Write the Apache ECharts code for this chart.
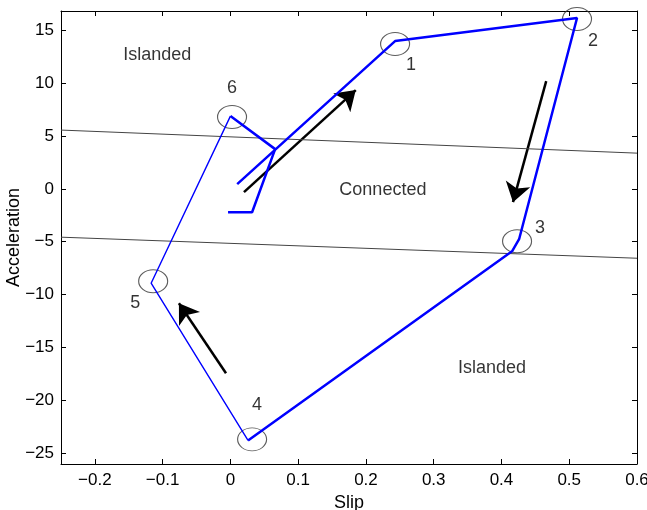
<!DOCTYPE html>
<html>
<head>
<meta charset="utf-8">
<style>
  html, body { margin: 0; padding: 0; background: #fff; }
  #chart { width: 647px; height: 510px; }
</style>
<script src="https://cdn.jsdelivr.net/npm/echarts@6/dist/echarts.min.js"></script>
</head>
<body>
<div id="chart"></div>
<script>
// axis ticks
const slipTicks = [-0.2, -0.1, 0, 0.1, 0.2, 0.3, 0.4, 0.5, 0.6];
const accelTicks = [-25, -20, -15, -10, -5, 0, 5, 10, 15];

// region boundaries (slip ends, acceleration at each end)
const boundSlip = [-0.25, 0.6];
const upperBoundAccel = [5.55, 3.37];
const lowerBoundAccel = [-4.57, -6.56];

// trajectory: start -> 1 -> 2 -> 3 -> 4 (thick)
const outSlip = [0.010, 0.243, 0.5115, 0.426, 0.4156, 0.026];
const outAccel = [0.44, 13.96, 16.14, -4.76, -5.90, -23.77];
// 4 -> 5 -> 6 (thin)
const backSlip = [0.026, -0.117, 0.0];
const backAccel = [-23.77, -8.92, 6.87];
// 6 -> end (thick)
const tailSlip = [0.0, 0.066, 0.032, -0.0035];
const tailAccel = [6.87, 3.75, -2.21, -2.21];

// marked states
const markNames = ['1', '2', '3', '4', '5', '6'];
const markSlip = [0.243, 0.5115, 0.423, 0.032, -0.114, 0.0024];
const markAccel = [13.68, 16.04, -4.95, -23.67, -8.73, 6.78];

// direction arrows [tail, head]
const arrowTailSlip = [0.020, 0.466, -0.0065];
const arrowTailAccel = [-0.32, 10.18, -17.43];
const arrowHeadSlip = [0.185, 0.417, -0.076];
const arrowHeadAccel = [9.33, -1.26, -10.81];

// region names
const regionNames = ['Islanded', 'Connected', 'Islanded'];
const regionSlip = [-0.108, 0.225, 0.386];
const regionAccel = [12.64, -0.13, -16.96];

const FONT = '"Liberation Sans", Arial, sans-serif';
const fmt = v => (v === 0 ? '0' : String(v).replace('-', '\u2212'));
const zip = (xs, ys) => xs.map((x, i) => [x, ys[i]]);

const labelOffsets = [[16, 21], [16, 22], [23, -13], [5, -34], [-18, 22], [0, -29]];

const chart = echarts.init(document.getElementById('chart'));

const axisCommon = {
  type: 'value',
  axisLine: { show: true, onZero: false, lineStyle: { color: '#000', width: 1 } },
  splitLine: { show: false },
  nameMoveOverlap: false
};

chart.setOption({
  animation: false,
  textStyle: { fontFamily: FONT },
  grid: { left: 61, right: 10, top: 11, bottom: 46, containLabel: false, outerBoundsMode: 'none' },
  xAxis: [
    Object.assign({}, axisCommon, {
      position: 'bottom', min: -0.25, max: 0.6,
      axisTick: { show: true, inside: true, length: 5, customValues: slipTicks, lineStyle: { color: '#000' } },
      axisLabel: { customValues: slipTicks, formatter: fmt, color: '#000', fontSize: 17, margin: 8, fontFamily: FONT },
      name: 'Slip', nameLocation: 'middle', nameGap: 30,
      nameTextStyle: { color: '#000', fontSize: 18, fontFamily: FONT }
    }),
    Object.assign({}, axisCommon, {
      position: 'top', min: -0.25, max: 0.6,
      axisTick: { show: true, inside: true, length: 5, customValues: slipTicks, lineStyle: { color: '#000' } },
      axisLabel: { show: false }
    })
  ],
  yAxis: [
    Object.assign({}, axisCommon, {
      position: 'left', min: -26, max: 16.8,
      axisTick: { show: true, inside: true, length: 5, customValues: accelTicks, lineStyle: { color: '#000' } },
      axisLabel: { customValues: accelTicks, formatter: fmt, color: '#000', fontSize: 17, margin: 7, fontFamily: FONT },
      name: 'Acceleration', nameLocation: 'middle', nameGap: 38,
      nameTextStyle: { color: '#000', fontSize: 18, fontFamily: FONT }
    }),
    Object.assign({}, axisCommon, {
      position: 'right', min: -26, max: 16.8,
      axisTick: { show: true, inside: true, length: 5, customValues: accelTicks, lineStyle: { color: '#000' } },
      axisLabel: { show: false }
    })
  ],
  series: [
    {
      type: 'line', data: zip(boundSlip, upperBoundAccel), symbol: 'none',
      lineStyle: { color: '#444', width: 1 }
    },
    {
      type: 'line', data: zip(boundSlip, lowerBoundAccel), symbol: 'none',
      lineStyle: { color: '#444', width: 1 }
    },
    {
      type: 'line', data: zip(outSlip, outAccel), symbol: 'none',
      lineStyle: { color: '#0000ff', width: 2.5 }
    },
    {
      type: 'line', data: zip(backSlip, backAccel), symbol: 'none',
      lineStyle: { color: '#0000ff', width: 1.4 }
    },
    {
      type: 'line', data: zip(tailSlip, tailAccel), symbol: 'none',
      lineStyle: { color: '#0000ff', width: 2.5 }
    },
    {
      type: 'scatter',
      symbol: 'circle', symbolSize: [29, 23],
      itemStyle: { color: 'rgba(0,0,0,0)', borderColor: '#333', borderWidth: 1 },
      label: {
        show: true, formatter: p => p.name, color: '#000', fontSize: 18, fontFamily: FONT,
        position: 'inside', textBorderWidth: 0
      },
      data: markNames.map((n, i) => ({
        name: n, value: [markSlip[i], markAccel[i]],
        label: { offset: labelOffsets[i] }
      }))
    },
    {
      type: 'lines', coordinateSystem: 'cartesian2d',
      symbol: ['none', 'arrow'], symbolSize: [0, 19],
      lineStyle: { color: '#000', width: 2.5, opacity: 1 },
      data: arrowTailSlip.map((x, i) => ({
        coords: [[x, arrowTailAccel[i]], [arrowHeadSlip[i], arrowHeadAccel[i]]]
      }))
    },
    {
      type: 'scatter', symbolSize: 0,
      label: {
        show: true, position: 'inside', formatter: p => p.name,
        color: '#000', fontSize: 18, fontFamily: FONT, textBorderWidth: 0
      },
      data: regionNames.map((n, i) => ({ name: n, value: [regionSlip[i], regionAccel[i]] }))
    }
  ]
});
</script>
</body>
</html>
